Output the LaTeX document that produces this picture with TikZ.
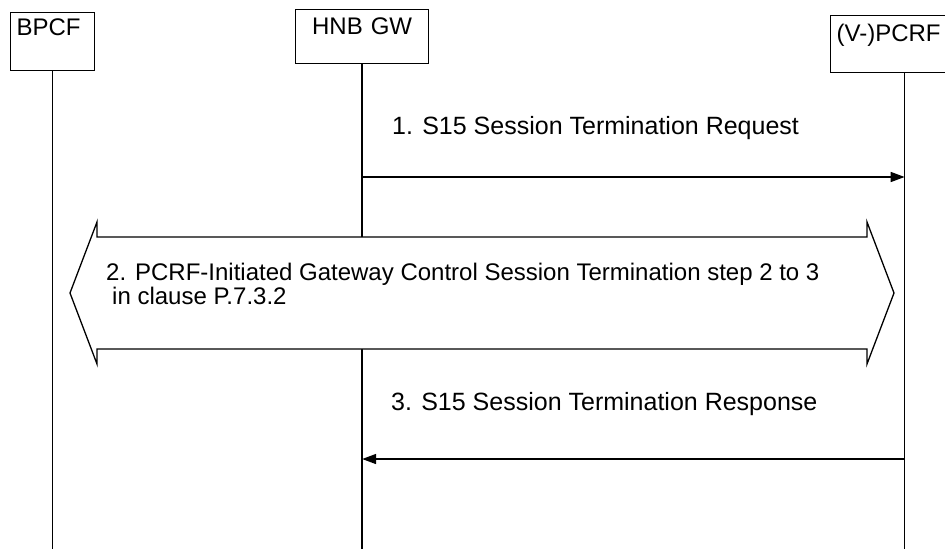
\documentclass[tikz,border=0pt]{standalone}
\usepackage{fontspec}
\setmainfont{Liberation Sans}
\usepackage{tikz}
\usetikzlibrary{arrows.meta,positioning,calc}

\begin{document}
\begin{tikzpicture}[x=1pt,y=-1pt,font=\fontsize{24}{22}\selectfont,
  entity/.style={draw,line width=1.3pt,inner xsep=6pt,inner ysep=6pt,anchor=north west},
  lifeline/.style={line width=1.5pt},
  msg/.style={line width=1.5pt,-{Triangle[length=14pt,width=10pt]}},
  msglabel/.style={anchor=base west,inner sep=0pt,font=\fontsize{25}{27}\selectfont}]
  \useasboundingbox (0,0) rectangle (945,549);
  \clip (0,0) rectangle (945,549);

  % entities
  \node[entity,text width=72pt,text height=17pt,text depth=29pt,align=left] (bpcf) at (10,12) {BPCF};
  \node[entity,text width=121pt,text height=19pt,text depth=23pt,align=center] (hnb) at (295,9) {HNB GW};
  \node[entity,text width=136pt,text height=20pt,text depth=25pt,align=left] (pcrf) at (830,15) {(V-)PCRF};

  \coordinate (bottom) at (0,549);
  \coordinate (m1) at (0,177);
  \coordinate (m3) at (0,459);

  % lifelines
  \draw[lifeline] (bpcf.south) -- (bpcf.south |- bottom);
  \draw[lifeline] (hnb.south) -- (hnb.south |- bottom);
  \draw[lifeline] (pcrf.south) -- (pcrf.south |- bottom);

  % step 2 (both directions)
  \draw[line width=1.3pt,fill=white,line join=miter]
    (97,237) -- (867,237) -- (867,222) -- (894,293) -- (867,364) -- (867,349)
    -- (97,349) -- (97,364) -- (70,293) -- (97,222) -- cycle;
  \node[anchor=base west,align=left,inner sep=0pt] (step2) at (106,304)
    {2. PCRF-Initiated Gateway Control Session Termination step 2 to 3\\\hspace*{6pt}in clause P.7.3.2};

  % messages
  \node[msglabel] (m1label) at (392,134) {1. S15 Session Termination Request};
  \draw[msg] (hnb.south |- m1) -- (pcrf.south |- m1);

  \node[msglabel] (m3label) at (391,410) {3. S15 Session Termination Response};
  \draw[msg] (pcrf.south |- m3) -- (hnb.south |- m3);
\end{tikzpicture}
\end{document}
